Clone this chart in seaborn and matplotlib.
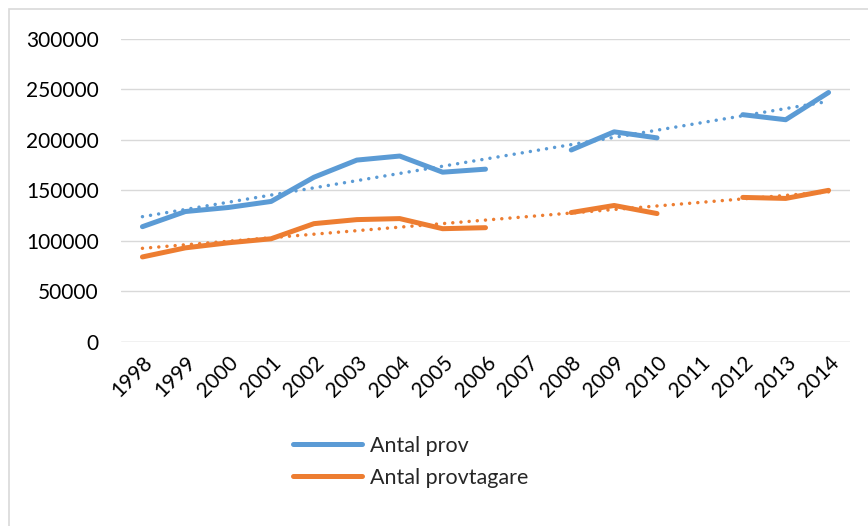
import numpy as np
import pandas as pd
import matplotlib
matplotlib.use("Agg")
import matplotlib.pyplot as plt
from matplotlib.lines import Line2D
from matplotlib.patches import Rectangle
import seaborn as sns

years = ["1998", "1999", "2000", "2001", "2002", "2003", "2004", "2005", "2006",
         "2007", "2008", "2009", "2010", "2011", "2012", "2013", "2014"]
antal_prov = [114000, 129000, 133000, 139000, 163000, 180000, 184000, 168000, 171000,
              np.nan, 190000, 208000, 202000, np.nan, 225000, 220000, 247000]
antal_provtagare = [84000, 93000, 98000, 102000, 117000, 121000, 122000, 112000, 113000,
                    np.nan, 128000, 135000, 127000, np.nan, 143000, 142000, 150000]
series_names = ["Antal prov", "Antal provtagare"]
colors = ["#5B9BD5", "#ED7D31"]
yticks = [0, 50000, 100000, 150000, 200000, 250000, 300000]

sns.set_theme(style="white")
plt.rcParams["font.family"] = ["Lato", "DejaVu Sans"]

fig = plt.figure(figsize=(8.68, 5.26), dpi=100)
ax = fig.add_axes([121 / 868, 1 - 341.7 / 526, (850 - 121) / 868, (341.7 - 39) / 526])

rows = []
for name, vals in zip(series_names, [antal_prov, antal_provtagare]):
    seg = 0
    for i, v in enumerate(vals):
        if np.isnan(v):
            seg += 1
            continue
        rows.append({"x": i, "value": v, "series": name, "seg": f"{name}-{seg}"})
df = pd.DataFrame(rows)

palette = dict(zip(series_names, colors))
sns.lineplot(data=df, x="x", y="value", hue="series", units="seg", estimator=None,
             palette=palette, linewidth=3.6, ax=ax, legend=False,
             solid_capstyle="round", solid_joinstyle="round")

# linear trend lines (Excel style)
xs_all = np.arange(len(years))
for name, vals, c in zip(series_names, [antal_prov, antal_provtagare], colors):
    v = np.array(vals, dtype=float)
    m = ~np.isnan(v)
    k, b = np.polyfit(xs_all[m], v[m], 1)
    tdf = pd.DataFrame({"x": xs_all, "trend": k * xs_all + b})
    sns.lineplot(data=tdf, x="x", y="trend", color=c, linewidth=2.5, ax=ax,
                 linestyle=(0, (0.01, 2.35)), dash_capstyle="round")

ax.set_xlim(-0.5, len(years) - 0.5)
ax.set_ylim(0, 300000)
ax.set_yticks(yticks)
ax.set_yticklabels([str(t) for t in yticks])
ax.set_xticks(xs_all)
ax.set_xticklabels(years, rotation=45, ha="right", rotation_mode="anchor")
ax.tick_params(axis="y", length=0, pad=16, labelsize=15, colors="black")
ax.tick_params(axis="x", length=0, pad=8, labelsize=15, colors="black")
ax.set_xlabel("")
ax.set_ylabel("")
ax.grid(axis="y", color="#d9d9d9", linewidth=1.0)
ax.set_axisbelow(True)
for s in ax.spines.values():
    s.set_visible(False)
ax.axhline(0, color="#d9d9d9", linewidth=1.0, zorder=0)

handles = [Line2D([0], [0], color=c, linewidth=3.6, solid_capstyle="round") for c in colors]
fig.legend(handles, series_names, loc="upper left", bbox_to_anchor=(293 / 868, 1 - 436 / 526),
           frameon=False, fontsize=15.5, handlelength=3.2, handletextpad=0.4,
           borderpad=0, borderaxespad=0, labelspacing=0.55)

fig.patches.append(Rectangle((8.5 / 868, -0.1), 1.2, (526 - 9) / 526 + 0.1,
                             transform=fig.transFigure, fill=False,
                             edgecolor="#d9d9d9", linewidth=1.2))

fig.savefig("out.png", dpi=100)
